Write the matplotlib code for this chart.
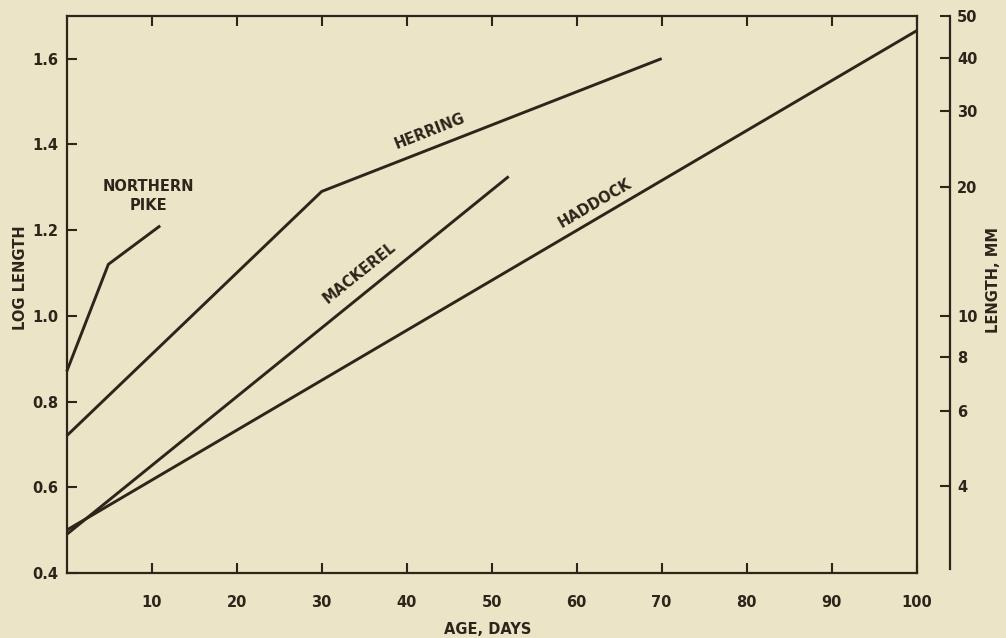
import numpy as np
import matplotlib
matplotlib.use("Agg")
import matplotlib.pyplot as plt

# Growth of larval fish: log length against age, piecewise-linear segments
pike_age = [0, 4.9, 11.0]
pike_log = [0.87, 1.12, 1.21]

herring_age = [0, 30, 70]
herring_log = [0.72, 1.29, 1.60]

mackerel_age = [0, 52]
mackerel_log = [0.49, 1.325]

haddock_age = [0, 100]
haddock_log = [0.50, 1.665]

x_ticks = [10, 20, 30, 40, 50, 60, 70, 80, 90, 100]
y_ticks = [0.4, 0.6, 0.8, 1.0, 1.2, 1.4, 1.6]
mm_ticks = [4, 6, 8, 10, 20, 30, 40, 50]

BG = "#ece4c6"
INK = "#2e241a"
FS = 10.5
FW = "bold"

plt.rcParams["font.family"] = ["DejaVu Sans"]
plt.rcParams["font.weight"] = FW

fig = plt.figure(figsize=(10.06, 6.38), dpi=100, facecolor=BG)
ax = fig.add_axes([0.0663, 0.1019, 0.9112 - 0.0663, 0.9754 - 0.1019])
ax.set_facecolor(BG)

for xs, ys in [(pike_age, pike_log), (herring_age, herring_log),
               (mackerel_age, mackerel_log), (haddock_age, haddock_log)]:
    ax.plot(xs, ys, color=INK, lw=2.1, solid_capstyle="butt", clip_on=False)

ax.set_xlim(0, 100)
ax.set_ylim(0.4, 1.7)

ax.set_xticks(x_ticks)
ax.set_xticklabels([str(v) for v in x_ticks])
ax.set_yticks(y_ticks)
ax.set_yticklabels([f"{v:.1f}" for v in y_ticks])

ax.tick_params(axis="both", which="both", direction="in", length=7, width=1.5,
               color=INK, labelcolor=INK, labelsize=FS,
               top=True, right=True)
ax.tick_params(axis="x", pad=16)
ax.tick_params(axis="y", pad=6)
for s in ax.spines.values():
    s.set_color(INK)
    s.set_linewidth(1.6)

# Length in mm on a separate log axis
ax2 = ax.twinx()
ax2.set_ylim(0.4, 1.7)
ax2.set_yticks(np.log10(mm_ticks))
ax2.set_yticklabels([str(v) for v in mm_ticks])
ax2.spines["right"].set_position(("outward", 24))
ax2.spines["right"].set_bounds(0.41, 1.7)
for name in ["left", "top", "bottom"]:
    ax2.spines[name].set_visible(False)
ax2.spines["right"].set_color(INK)
ax2.spines["right"].set_linewidth(1.6)
ax2.tick_params(axis="y", direction="in", length=7, width=1.5, color=INK,
                labelcolor=INK, labelsize=FS, pad=5)

# Curve labels
ax.text(9.6, 1.28, "NORTHERN\nPIKE", ha="center", va="center", fontsize=FS,
        color=INK, linespacing=1.3)
ax.text(42.7, 1.43, "HERRING", ha="center", va="center", fontsize=FS,
        color=INK, rotation=21.5, rotation_mode="anchor")
ax.text(34.5, 1.10, "MACKEREL", ha="center", va="center", fontsize=FS,
        color=INK, rotation=38.7, rotation_mode="anchor")
ax.text(62.2, 1.263, "HADDOCK", ha="center", va="center", fontsize=FS,
        color=INK, rotation=30.4, rotation_mode="anchor")

fig.text(21 / 1006, 1 - 278 / 638, "LOG LENGTH", rotation=90, ha="center",
         va="center", fontsize=FS, color=INK)
fig.text(993 / 1006, 1 - 280 / 638, "LENGTH, MM", rotation=90, ha="center",
         va="center", fontsize=FS, color=INK)
fig.text(488 / 1006, 1 - 629 / 638, "AGE, DAYS", ha="center", va="center",
         fontsize=FS, color=INK)

fig.savefig("out.png", dpi=100, facecolor=BG)
